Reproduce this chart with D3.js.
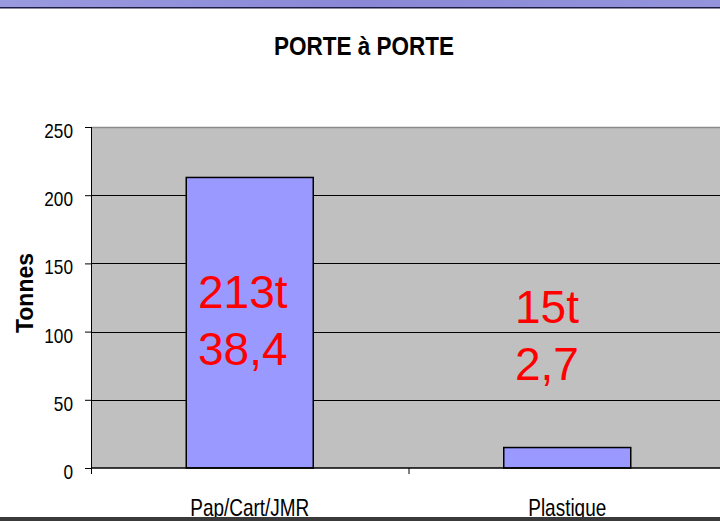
<!DOCTYPE html>
<meta charset="utf-8">
<body style="margin:0;background:#fff">
<script src="https://d3js.org/d3.v7.min.js"></script>
<div id="chart"></div>
<script>

// data
var categories = ["Pap/Cart/JMR", "Plastique"]
var tonnes = [213, 15]
var labelTop = ["213t", "15t"]
var labelBottom = ["38,4", "2,7"]
var yTicks = [0, 50, 100, 150, 200, 250]

var W = 720, H = 521
var margin = {top: 127, left: 91, right: -6, bottom: 53}
var width = W - margin.left - margin.right,
    height = H - margin.top - margin.bottom

var svg = d3.select("#chart").append("svg")
  .attr("width", W).attr("height", H)
  .style("font-family", "'Liberation Sans', Arial, sans-serif")

// purple band at the top of the slide
var grad = svg.append("defs").append("linearGradient").attr("id", "band")
grad.append("stop").attr("offset", "0%").attr("stop-color", "#9a9ae0")
grad.append("stop").attr("offset", "50%").attr("stop-color", "#8a88d6")
grad.append("stop").attr("offset", "100%").attr("stop-color", "#9494dc")
svg.append("rect").attr("x", 0).attr("y", 0).attr("width", W).attr("height", 7).attr("fill", "url(#band)")
svg.append("rect").attr("x", 0).attr("y", 7).attr("width", W).attr("height", 1.5).attr("fill", "#1c1c44")

// condensed text helper (the original fonts look narrow)
function ctext(parent, x, y, str, size, sx, anchor, weight) {
  return parent.append("text")
    .attr("transform", "translate(" + x + "," + y + ") scale(" + sx + ",1)")
    .attr("text-anchor", anchor)
    .style("font-size", size + "px")
    .style("font-weight", weight || "normal")
    .text(str)
}

ctext(svg, 364, 55, "PORTE à PORTE", 25, 0.9, "middle", "bold")

var g = svg.append("g").attr("transform", "translate(" + margin.left + "," + margin.top + ")")

var x = d3.scaleBand().domain(categories).range([0, width]).paddingInner(0).paddingOuter(0)
var y = d3.scaleLinear().domain([0, 250]).range([height, 0])

g.append("rect").attr("width", width).attr("height", height).attr("fill", "#c0c0c0")
g.append("line").attr("x1", 0).attr("x2", width).attr("y1", 0.5).attr("y2", 0.5)
  .attr("stroke", "#8a8a8a").attr("stroke-width", 1.5)

// gridlines
g.selectAll(".grid").data(yTicks.filter(function(d) { return d > 0 && d < 250 }))
  .join("line")
    .attr("x1", 0).attr("x2", width)
    .attr("y1", function(d) { return Math.round(y(d)) + 0.5 })
    .attr("y2", function(d) { return Math.round(y(d)) + 0.5 })
    .attr("stroke", "#000").attr("stroke-width", 1)

// bars
var bw = x.bandwidth() * 0.4
g.selectAll(".bar").data(tonnes)
  .join("rect")
    .attr("x", function(d, i) { return x(categories[i]) + (x.bandwidth() - bw) / 2 })
    .attr("y", function(d) { return y(d) })
    .attr("width", bw)
    .attr("height", function(d) { return height - y(d) })
    .attr("fill", "#9999ff").attr("stroke", "#000").attr("stroke-width", 1.5)

// y axis
var yAxis = g.append("g").call(d3.axisLeft(y).tickValues(yTicks).tickSize(6).tickFormat(""))
yAxis.selectAll("line,path").attr("stroke", "#000")
yAxis.select(".domain").attr("d", "M0.5," + height + "V0")
yTicks.forEach(function(t) {
  ctext(g, -18, y(t) + 11, t, 21, 0.82, "end")
})

// x axis
var xAxis = g.append("g").attr("transform", "translate(0," + height + ")")
xAxis.append("line").attr("x1", 0).attr("x2", width).attr("stroke", "#000").attr("stroke-width", 1.5)
xAxis.selectAll(".tk").data(categories)
  .join("line")
    .attr("x1", function(d) { return x(d) + 0.5 }).attr("x2", function(d) { return x(d) + 0.5 })
    .attr("y1", 0).attr("y2", 6).attr("stroke", "#000")
categories.forEach(function(c) {
  ctext(xAxis, x(c) + x.bandwidth() / 2, 48, c, 24, 0.79, "middle")
})

// y title
svg.append("text")
  .attr("transform", "translate(33,293) rotate(-90)")
  .attr("text-anchor", "middle")
  .style("font-size", "23px").style("font-weight", "bold")
  .text("Tonnes")

// red value labels
var lblX = [198, 515], lblY1 = [308, 323], lblY2 = [365, 380]
tonnes.forEach(function(d, i) {
  [[labelTop[i], lblY1[i]], [labelBottom[i], lblY2[i]]].forEach(function(p) {
    svg.append("text").attr("x", lblX[i]).attr("y", p[1])
      .style("font-size", "46px").style("fill", "#ff0000")
      .text(p[0])
  })
})

// bottom frame line
svg.append("rect").attr("x", 0).attr("y", 517).attr("width", W).attr("height", 4).attr("fill", "#3a3a3a")

</script>
